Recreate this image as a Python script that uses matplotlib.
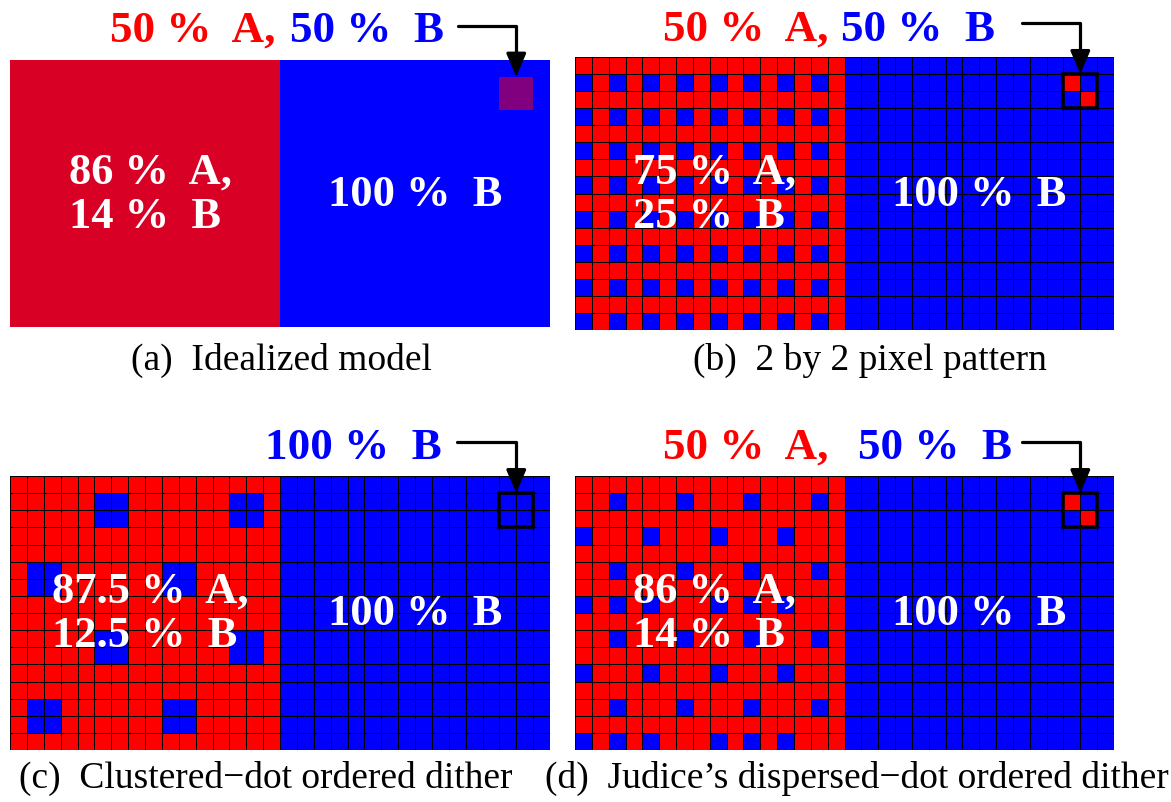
import numpy as np
import matplotlib
matplotlib.use("Agg")
import matplotlib.pyplot as plt
from matplotlib.colors import ListedColormap
from matplotlib.patches import Rectangle

plt.rcParams['font.family'] = ['Liberation Serif', 'DejaVu Serif']

# grid size of every panel (cells)
n_cols, n_rows = 32, 16
half = 16

# repeating tiles for the left half, "A" = red material, "B" = blue material
tile_b = ["AA",
          "BA"]
tile_c = ["AAAAAAAA",
          "AAAAABBA",
          "AAAAABBA",
          "AAAAAAAA",
          "AAAAAAAA",
          "ABBAAAAA",
          "ABBAAAAA",
          "AAAAAAAA"]
tile_d = ["AAAAAAAA",
          "AABAAABA",
          "AAAAAAAA",
          "BAAABAAA",
          "AAAAAAAA",
          "AABAAABA",
          "AAAAAAAA",
          "BABABAAA"]

# highlighted 2x2 block in the right half (col, row of its top-left cell)
box_col, box_row = 29, 1
box_mix = ["AB",
           "BA"]
box_pure = ["BB",
            "BB"]

panel_labels = ["(a)  Idealized model", "(b)  2 by 2 pixel pattern",
                "(c)  Clustered\u2212dot ordered dither",
                "(d)  Judice\u2019s dispersed\u2212dot ordered dither"]
left_texts = ["86 %  A,\n14 %  B", "75 %  A,\n25 %  B",
              "87.5 %  A,\n12.5 %  B", "86 %  A,\n14 %  B"]
right_text = "100 %  B"
title_red = ["50 %  A,", "50 %  A,", None, "50 %  A,"]
title_blue = ["50 %  B", "50 %  B", "100 %  B", "50 %  B"]

RED = "#ff0000"
BLUE = "#0000ff"
SOLID_RED = "#d90026"
PURPLE = "#800080"


def build_grid(tile, box):
    grid = np.ones((n_rows, n_cols))
    th, tw = len(tile), len(tile[0])
    for r in range(n_rows):
        for c in range(half):
            grid[r, c] = 1 if tile[r % th][c % tw] == "B" else 0
    for i, row in enumerate(box):
        for j, ch in enumerate(row):
            grid[box_row + i, box_col + j] = 1 if ch == "B" else 0
    return grid


W, H = 1171, 803
fig = plt.figure(figsize=(W / 100, H / 100), dpi=100)

# pixel rectangles of the four panels (x0, y0, x1, y1)
rects = [(10, 61, 550, 328), (575, 58, 1114, 331),
         (10, 477, 550, 751), (575, 477, 1114, 751)]


def add_panel(rect):
    x0, y0, x1, y1 = rect
    ax = fig.add_axes([x0 / W, 1 - y1 / H, (x1 - x0) / W, (y1 - y0) / H])
    ax.set_xlim(0, n_cols)
    ax.set_ylim(n_rows, 0)
    ax.set_axis_off()
    return ax


axes = [add_panel(r) for r in rects]

# (a) idealized: solid halves plus a mixed square
grid_a = np.ones((n_rows, n_cols))
grid_a[:, :half] = 0
grid_a[box_row:box_row + 2, box_col:box_col + 2] = 2
axes[0].pcolormesh(grid_a, cmap=ListedColormap([SOLID_RED, BLUE, PURPLE]),
                   vmin=0, vmax=2, edgecolors="none")

grids = [build_grid(tile_b, box_mix), build_grid(tile_c, box_pure),
         build_grid(tile_d, box_mix)]
for ax, g in zip(axes[1:], grids):
    ax.pcolormesh(g, cmap=ListedColormap([RED, BLUE]), vmin=0, vmax=1,
                  edgecolors="black", linewidth=0.7)
    ax.add_patch(Rectangle((box_col, box_row), 2, 2, fill=False,
                           edgecolor="black", linewidth=2.6, zorder=5,
                           clip_on=False))

for ax, txt in zip(axes, left_texts):
    ax.text(half / 2 + 0.3, n_rows / 2, txt, color="white", fontsize=32,
            fontweight="bold", ha="center", va="center",
            multialignment="left", linespacing=1.15, zorder=6)
    ax.text(half * 1.5, n_rows / 2, right_text, color="white", fontsize=32,
            fontweight="bold", ha="center", va="center", zorder=6)

# overlay in pixel coordinates for titles, arrows and captions
ov = fig.add_axes([0, 0, 1, 1], zorder=10)
ov.set_xlim(0, W)
ov.set_ylim(H, 0)
ov.set_axis_off()

red_x = [110, 663, None, 663]
blue_end = [444, 995, 442, 1012]
title_y = [42, 41, 459, 459]
arrow_x = [458, 1022, 457, 1022]
arrow_y = [27, 24, 443, 443]
cap_x = [281, 870, 266, 857]
cap_y = [370, 370, 788, 788]

for i, ax in enumerate(axes):
    if title_red[i]:
        ov.text(red_x[i], title_y[i], title_red[i], color=RED, fontsize=32.5,
                fontweight="bold", ha="left", va="baseline")
    ov.text(blue_end[i], title_y[i], title_blue[i], color=BLUE, fontsize=32.5,
            fontweight="bold", ha="right", va="baseline")
    ov.annotate("", xy=(box_col + 1, box_row), xycoords=ax.transData,
                xytext=(arrow_x[i], arrow_y[i]), textcoords=ov.transData,
                annotation_clip=False,
                arrowprops=dict(arrowstyle="-|>,head_length=0.7,head_width=0.3",
                                mutation_scale=20, color="black", linewidth=2.3,
                                shrinkA=0, shrinkB=0,
                                connectionstyle="angle,angleA=0,angleB=90,rad=0"))
    ov.text(cap_x[i], cap_y[i], panel_labels[i], color="black", fontsize=27,
            ha="center", va="baseline")

fig.savefig("out.png", dpi=100)
